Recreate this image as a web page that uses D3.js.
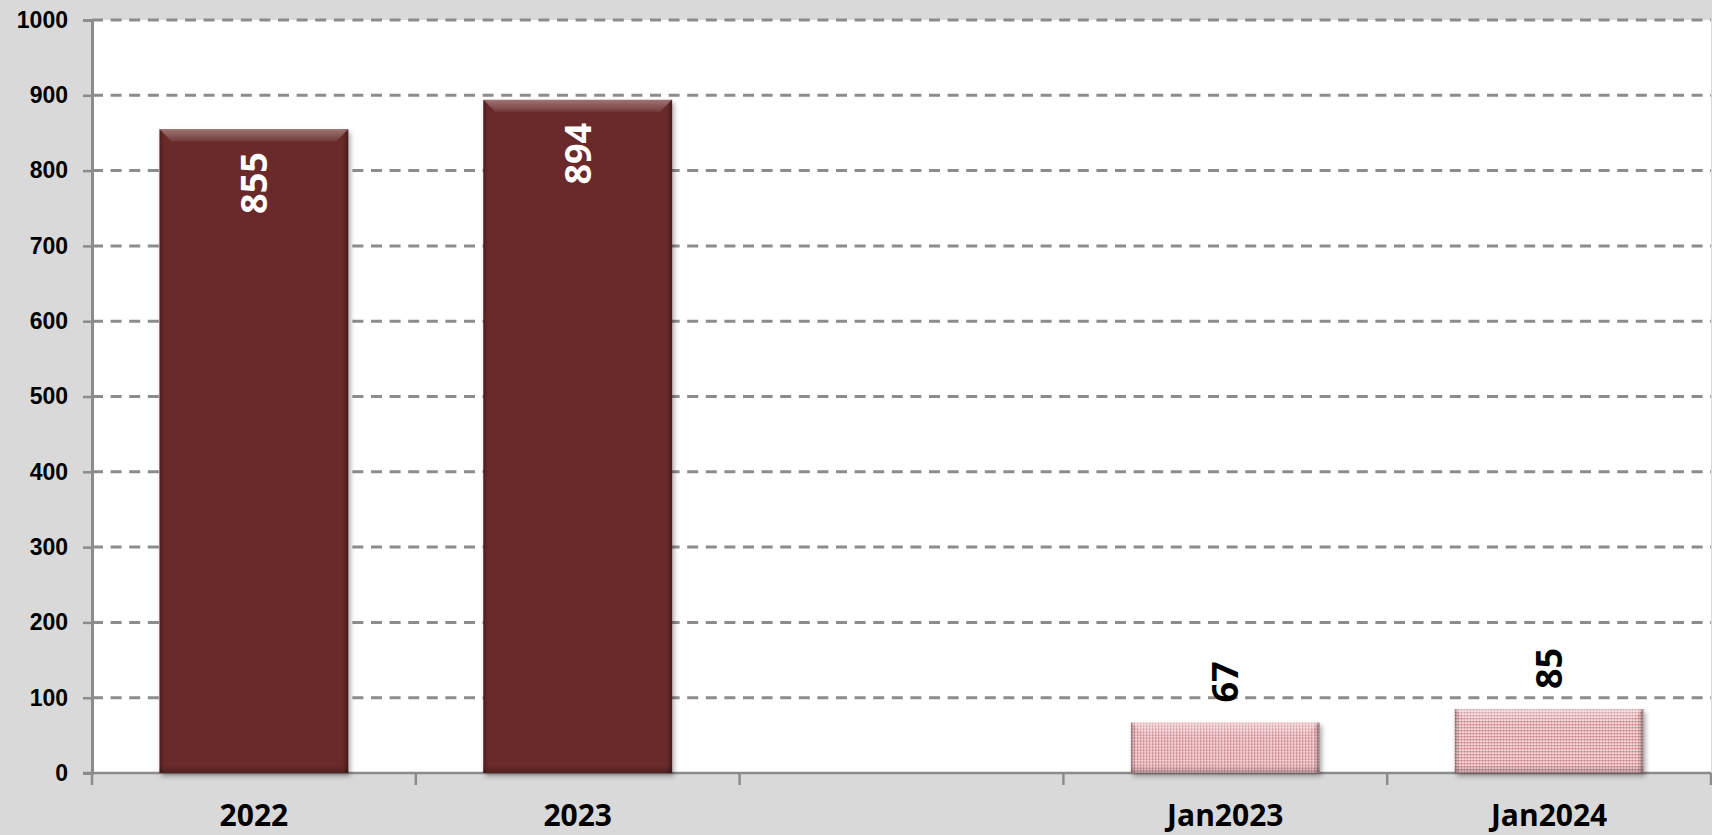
<!DOCTYPE html>
<html>
<head>
<meta charset="utf-8">
<script src="https://cdn.jsdelivr.net/npm/d3@7"></script>
<style>
  body { margin: 0; background: #d9d9d9; }
  svg { display: block; }
</style>
</head>
<body>
<script>
// annual totals and the January-only figures
const yearCats = ['2022', '2023'];
const yearVals = [855, 894];
const janCats = ['Jan2023', 'Jan2024'];
const janVals = [67, 85];
// an empty slot sits between the two groups
const categories = [...yearCats, ' ', ...janCats];
const yTicks = [0, 100, 200, 300, 400, 500, 600, 700, 800, 900, 1000];

const width = 1712, height = 835;
const plot = { left: 92, right: 1711, top: 20, bottom: 773 };

const svg = d3.select('body').append('svg')
  .attr('width', width)
  .attr('height', height);

const defs = svg.append('defs');

/* drop shadow under the bars */
defs.append('filter')
  .attr('id', 'shadow')
  .attr('x', '-10%').attr('y', '-10%').attr('width', '120%').attr('height', '130%')
  .append('feDropShadow')
  .attr('dx', 2).attr('dy', 3)
  .attr('stdDeviation', 2.5)
  .attr('flood-color', '#000')
  .attr('flood-opacity', 0.35);

/* bevel gradients */
function gradient(id, x2, y2, stops) {
  const g = defs.append('linearGradient')
    .attr('id', id)
    .attr('x1', 0).attr('y1', 0).attr('x2', x2).attr('y2', y2);
  stops.forEach(s => g.append('stop')
    .attr('offset', s[0]).attr('stop-color', s[1]).attr('stop-opacity', s[2]));
}
gradient('sides', 1, 0, [[0, '#000', 0.28], [0.025, '#000', 0], [0.97, '#000', 0], [1, '#000', 0.35]]);
gradient('topLight', 0, 1, [[0, '#fff', 0.35], [1, '#fff', 0.08]]);
gradient('bottomDark', 0, 1, [[0, '#000', 0], [1, '#000', 0.22]]);

/* dotted texture for the January bars */
const pat = defs.append('pattern')
  .attr('id', 'dots')
  .attr('width', 3).attr('height', 3)
  .attr('patternUnits', 'userSpaceOnUse');
pat.append('rect').attr('width', 3).attr('height', 3).attr('fill', '#e8b6ba');
pat.append('rect').attr('width', 1.2).attr('height', 1.2).attr('fill', '#b46b74');
pat.append('rect').attr('x', 1.5).attr('y', 1.5).attr('width', 1.5).attr('height', 1.5).attr('fill', '#f8e0e2');

/* plot background */
svg.append('rect')
  .attr('x', plot.left).attr('y', plot.top)
  .attr('width', plot.right - plot.left)
  .attr('height', plot.bottom - plot.top)
  .attr('fill', '#fff');

/* scales */
const y = d3.scaleLinear()
  .domain([0, 1000])
  .range([plot.bottom, plot.top]);

const x = d3.scaleBand()
  .domain(categories)
  .range([plot.left, plot.right])
  .padding(0);

const barWidth = x.bandwidth() * 0.583;

/* gridlines */
svg.append('g')
  .selectAll('line')
  .data(yTicks.filter(d => d > 0))
  .enter().append('line')
  .attr('x1', plot.left).attr('x2', plot.right)
  .attr('y1', d => y(d)).attr('y2', d => y(d))
  .attr('stroke', '#8c8c8c')
  .attr('stroke-width', 3)
  .attr('stroke-dasharray', '11,7.6');

/* y-axis */
const yAxis = d3.axisLeft(y)
  .tickValues(yTicks)
  .tickFormat(d3.format('d'))
  .tickSize(9)
  .tickPadding(15);

svg.append('g')
  .attr('transform', `translate(${plot.left},0)`)
  .call(yAxis)
  .call(g => g.select('.domain').attr('stroke', '#8c8c8c').attr('stroke-width', 3))
  .call(g => g.selectAll('.tick line').attr('stroke', '#8c8c8c').attr('stroke-width', 2.5))
  .call(g => g.selectAll('.tick text')
    .attr('fill', '#000')
    .style('font', 'bold 23px "Liberation Sans", Arial, sans-serif'));

/* x-axis: ticks sit on the band edges, labels in the middle */
const edges = categories.map(c => x(c)).concat([plot.right]);
const xg = svg.append('g');
xg.append('line')
  .attr('x1', plot.left - 9).attr('x2', plot.right)
  .attr('y1', plot.bottom).attr('y2', plot.bottom)
  .attr('stroke', '#8c8c8c')
  .attr('stroke-width', 2.5);
xg.selectAll('.xtick')
  .data(edges)
  .enter().append('line')
  .attr('class', 'xtick')
  .attr('x1', d => d).attr('x2', d => d)
  .attr('y1', plot.bottom).attr('y2', plot.bottom + 12)
  .attr('stroke', '#8c8c8c')
  .attr('stroke-width', 2.5);
xg.selectAll('.xlabel')
  .data(categories)
  .enter().append('text')
  .attr('class', 'xlabel')
  .attr('x', d => x(d) + x.bandwidth() / 2)
  .attr('y', 826)
  .attr('text-anchor', 'middle')
  .style('font', 'bold 30px "Open Sans", sans-serif')
  .attr('fill', '#000')
  .text(d => d.trim());

/* bars */
function drawBars(cats, vals, cls, fill) {
  const data = cats.map((c, i) => ({ cat: c, value: vals[i] }));
  const g = svg.append('g').attr('class', cls)
    .selectAll('g')
    .data(data)
    .enter().append('g')
    .attr('transform', d => `translate(${x(d.cat) + (x.bandwidth() - barWidth) / 2},${y(d.value)})`);

  g.append('rect')
    .attr('width', barWidth)
    .attr('height', d => y(0) - y(d.value))
    .attr('fill', fill)
    .attr('filter', 'url(#shadow)');
  g.append('rect')
    .attr('width', barWidth)
    .attr('height', d => y(0) - y(d.value))
    .attr('fill', 'url(#sides)');
  // bevel on top edge
  g.append('path')
    .attr('d', `M0,0H${barWidth}L${barWidth - 12},12H12Z`)
    .attr('fill', 'url(#topLight)');
  g.append('rect')
    .attr('y', d => y(0) - y(d.value) - 8)
    .attr('width', barWidth)
    .attr('height', 8)
    .attr('fill', 'url(#bottomDark)');
  return g;
}

const yearBars = drawBars(yearCats, yearVals, 'years', '#6a2a2a');
const janBars = drawBars(janCats, janVals, 'jan', 'url(#dots)');

/* value labels, rotated */
yearBars.append('text')
  .attr('transform', `translate(${barWidth / 2},23) rotate(-90)`)
  .attr('text-anchor', 'end')
  .attr('dy', '0.36em')
  .attr('fill', '#fff')
  .style('font', 'bold 36px "Open Sans", sans-serif')
  .text(d => d.value);

janBars.append('text')
  .attr('transform', `translate(${barWidth / 2},-20) rotate(-90)`)
  .attr('text-anchor', 'start')
  .attr('dy', '0.36em')
  .attr('fill', '#000')
  .style('font', 'bold 36px "Open Sans", sans-serif')
  .text(d => d.value);
</script>
</body>
</html>
